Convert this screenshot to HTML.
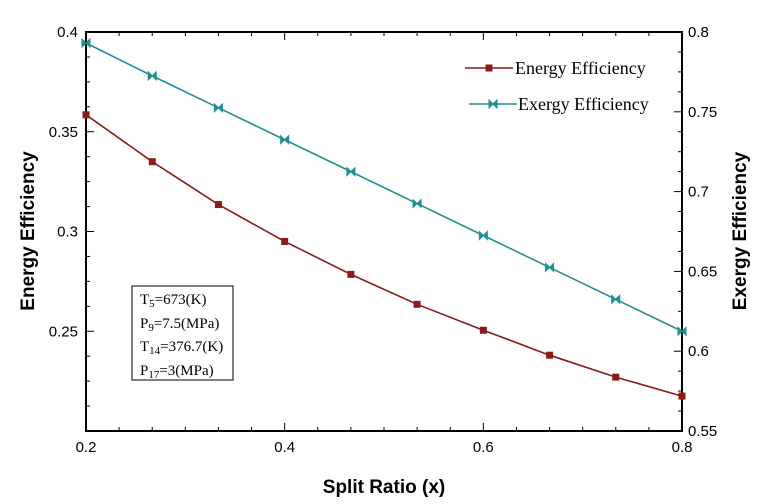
<!DOCTYPE html>
<html><head><meta charset="utf-8"><style>
body{margin:0;background:#fff;}
svg text{font-family:"Liberation Sans",sans-serif;}
</style></head><body>
<svg id="c" width="763" height="499" xmlns="http://www.w3.org/2000/svg"></svg>
<script>
const xValues=[0.2,0.2667,0.3333,0.4,0.4667,0.5333,0.6,0.6667,0.7333,0.8];
const energyValues=[0.3585,0.335,0.3135,0.295,0.2785,0.2635,0.2505,0.238,0.227,0.2175];
const exergyValues=[0.7931,0.7725,0.7525,0.7325,0.7125,0.6925,0.6725,0.6525,0.6325,0.6125];
const xTicks=[0.2,0.4,0.6,0.8];
const yLeftTicks=[0.25,0.3,0.35,0.4];
const yRightTicks=[0.55,0.6,0.65,0.7,0.75,0.8];
const L=86,R=682,T=32,B=431;
const sx=v=>L+(v-0.2)/0.6*(R-L);
const syL=v=>B-(v-0.2)/0.2*(B-T);
const syR=v=>B-(v-0.55)/0.25*(B-T);
const svg=document.getElementById('c');
const NS='http://www.w3.org/2000/svg';
function mk(t,a,txt){const e=document.createElementNS(NS,t);for(const k in a)e.setAttribute(k,a[k]);if(txt!==undefined)e.textContent=txt;svg.appendChild(e);return e;}
let e;
e=mk('rect',{x:L,y:T,width:R-L,height:B-T,fill:'none',stroke:'#000','stroke-width':2});


for(let i=0;i<=18;i++){const x=L+i*(R-L)/18;const len=(i%6===0)?8:4;
mk('line',{x1:x,y1:B,x2:x,y2:B-len,stroke:'#000'});mk('line',{x1:x,y1:T,x2:x,y2:T+len,stroke:'#000'});}
for(let i=0;i<=16;i++){const y=T+i*(B-T)/16;const len=(i%4===0)?8:4;mk('line',{x1:L,y1:y,x2:L+len,y2:y,stroke:'#000'});}
for(let i=0;i<=20;i++){const y=T+i*(B-T)/20;const len=(i%4===0)?8:4;mk('line',{x1:R,y1:y,x2:R-len,y2:y,stroke:'#000'});}
xTicks.forEach(v=>{e=mk('text',{x:sx(v),y:B+21,'text-anchor':'middle','font-size':15},String(v));

});
yLeftTicks.forEach(v=>{e=mk('text',{x:L-8,y:syL(v)+5,'text-anchor':'end','font-size':15},String(v));

});
yRightTicks.forEach(v=>{e=mk('text',{x:R+6,y:syR(v)+5,'text-anchor':'start','font-size':15},String(v));

});
e=mk('text',{x:(L+R)/2,y:493,'text-anchor':'middle','font-size':19,'font-weight':'bold'},'Split Ratio (x)');


e=mk('text',{x:0,y:0,'text-anchor':'middle','font-size':19,'font-weight':'bold',transform:'translate(34,231) rotate(-90)'},'Energy Efficiency');


e=mk('text',{x:0,y:0,'text-anchor':'middle','font-size':19,'font-weight':'bold',transform:'translate(746,231) rotate(-90)'},'Exergy Efficiency');


const red='#8b1a1a',teal='#1f8f8f';
e=mk('polyline',{points:xValues.map((x,i)=>sx(x)+','+syL(energyValues[i])).join(' '),fill:'none',stroke:red,'stroke-width':1.6});


xValues.forEach((x,i)=>{e=mk('rect',{x:sx(x)-3.5,y:syL(energyValues[i])-3.5,width:7,height:7,fill:red});

});
e=mk('polyline',{points:xValues.map((x,i)=>sx(x)+','+syR(exergyValues[i])).join(' '),fill:'none',stroke:teal,'stroke-width':1.6});


function bowtie(cx,cy){return mk('path',{d:`M${cx-4},${cy-4}L${cx+4},${cy+4}L${cx+4},${cy-4}L${cx-4},${cy+4}Z`,fill:teal,stroke:teal,'stroke-width':1});}
xValues.forEach((x,i)=>{e=bowtie(sx(x),syR(exergyValues[i]));

});
mk('line',{x1:465,y1:68,x2:513,y2:68,stroke:red,'stroke-width':1.6});mk('rect',{x:485.5,y:64.5,width:7,height:7,fill:red});
e=mk('text',{x:515,y:74,'font-size':18,style:'font-family:"Liberation Serif",serif'},'Energy Efficiency');


mk('line',{x1:469,y1:104,x2:517,y2:104,stroke:teal,'stroke-width':1.6});bowtie(493,104);
e=mk('text',{x:518,y:110,'font-size':18,style:'font-family:"Liberation Serif",serif'},'Exergy Efficiency');


e=mk('rect',{x:132,y:286,width:101,height:94,fill:'#fff',stroke:'#000','stroke-width':1});


const lines=[['T','5','=673(K)',304],['P','9','=7.5(MPa)',328],['T','14','=376.7(K)',351],['P','17','=3(MPa)',375]];
lines.forEach(l=>{const t=mk('text',{x:140,y:l[3],'font-size':15,style:'font-family:"Liberation Serif",serif'});
t.innerHTML=l[0]+'<tspan font-size="11" dy="3">'+l[1]+'</tspan><tspan dy="-3">'+l[2]+'</tspan>';

});
</script>
</body></html>
